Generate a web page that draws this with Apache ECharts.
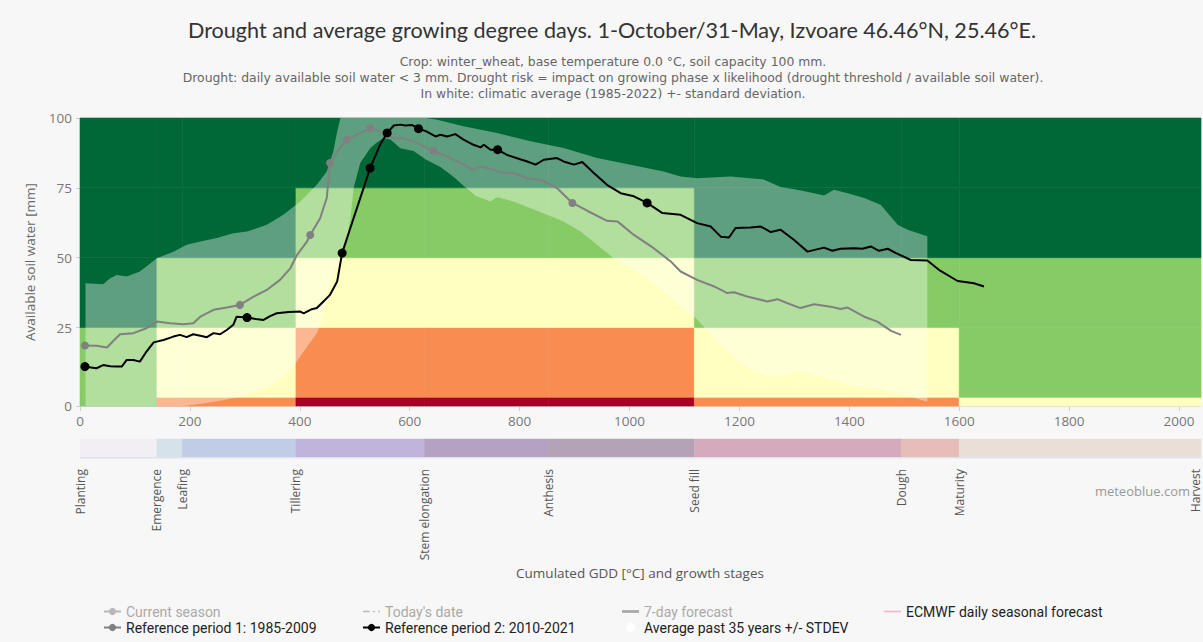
<!DOCTYPE html>
<html>
<head>
<meta charset="utf-8">
<title>Drought and average growing degree days</title>
<script src="https://cdn.jsdelivr.net/npm/echarts@6/dist/echarts.min.js"></script>
<style>
  html, body { margin: 0; padding: 0; background: #f7f7f7; }
  #chart { width: 1203px; height: 642px; }
</style>
</head>
<body>
<div id="chart"></div>
<script>
// ---- Growth stages (start of each stage in cumulated GDD, last entry = harvest) ----
const stageNames = ['Planting', 'Emergence', 'Leafing', 'Tillering', 'Stem elongation',
                    'Anthesis', 'Seed fill', 'Dough', 'Maturity', 'Harvest'];
const stageGdd = [0, 140, 186, 393, 627, 852, 1118, 1495, 1600, 2030];
const gddMax = 2040;

// ---- Soil water classes (mm) and the y tick labels shown at the class bounds ----
const waterBounds = [0, 3, 27.25, 51.5, 75.75, 100];
const yTickValues = [0, 27.25, 51.5, 75.75, 100];
const yTickLabels = ['0', '25', '50', '75', '100'];

// ---- Drought risk level per stage, per soil water class (dry -> wet) ----
const riskByStage = [
  [1, 1, 0, 0, 0],   // Planting
  [3, 2, 1, 0, 0],   // Emergence
  [3, 2, 1, 0, 0],   // Leafing
  [4, 3, 2, 1, 0],   // Tillering
  [4, 3, 2, 1, 0],   // Stem elongation
  [4, 3, 2, 1, 0],   // Anthesis
  [3, 2, 1, 0, 0],   // Seed fill
  [3, 2, 1, 0, 0],   // Dough
  [2, 1, 1, 0, 0]    // Maturity
];

// ---- Climatic average +/- standard deviation (GDD, mm) ----
const stdevUpperGdd = [10, 42, 55, 67, 85, 109, 140, 170, 194, 219, 249, 279, 304, 340, 370, 401, 431, 449, 461, 468, 474,
  630, 650, 698, 759, 820, 880, 941, 1002, 1062, 1093, 1123, 1184, 1245, 1275, 1305, 1336, 1354, 1372, 1397, 1427, 1457, 1488, 1506, 1542];
const stdevUpper = [42.6, 42.3, 44.4, 45.5, 45, 46.7, 51.3, 53.6, 56, 57.1, 58.3, 60, 60.6, 62.9, 66.4, 71, 76.8, 81.4, 88.4, 95.3, 100,
  100, 99.4, 97.1, 94.8, 91.9, 89.6, 86.1, 83.8, 81.4, 79.7, 79.1, 79.7, 78.6, 76, 75.1, 73.9, 73.1, 75.1, 73.9, 72.2, 69.9, 62.9, 61.2, 58.9];
const stdevLowerGdd = [10, 190, 230, 260, 290, 320, 345, 370, 393, 413, 431, 440, 452, 463, 477, 492, 498, 510, 528, 540, 552, 565,
  583, 607, 630, 656, 680, 698, 720, 747, 759, 789, 820, 850, 880, 911, 941, 971, 1002, 1032, 1062, 1093, 1121, 1154, 1184, 1214,
  1245, 1275, 1300, 1336, 1367, 1397, 1427, 1457, 1500, 1542];
const stdevLower = [0, 0, 1, 2, 3.2, 5, 7, 10, 15, 20.6, 25.3, 30, 40, 47, 51.3, 64.7, 75.7, 84.4, 89.5, 91.5, 93, 92.5,
  89.5, 88.5, 85.5, 83, 79.5, 76.5, 73, 71, 72.5, 71, 68.7, 66.4, 64.1, 60.6, 56, 51.3, 47.9, 44.4, 39.7, 34, 30.5, 23.5, 17.7, 13.1,
  10.8, 10.2, 11.9, 10.8, 9, 7.3, 6.4, 5.6, 3.8, 1.5];

// ---- Reference period 1: 1985-2009 ----
const ref1Gdd = [9, 30, 49, 60, 73, 97, 121, 140, 164, 188, 206, 219, 243, 267, 291, 316, 340, 364, 383, 395, 413, 419, 437, 449,
  455, 468, 486, 504, 528, 546, 571, 586, 607, 643, 668, 692, 716, 729, 753, 771, 789, 814, 838, 868, 896, 923, 959, 978, 1008,
  1044, 1075, 1093, 1123, 1154, 1178, 1190, 1214, 1251, 1269, 1290, 1311, 1336, 1366, 1384, 1397, 1427, 1451, 1476, 1494];
const ref1Water = [21, 20.9, 20.3, 22.5, 24.9, 25.3, 27, 29.3, 28.7, 28.4, 28.7, 31, 33.4, 34.2, 35.1, 38, 40.3, 43.8, 47.9, 52.5, 57.1, 59.4, 65.2, 72.2,
  84.4, 88.4, 92.5, 94.2, 96.4, 95.3, 93, 93, 91.9, 88.6, 86.7, 84.4, 82, 83.2, 82, 80.9, 80.9, 79.1, 78.6, 75.7, 70.5, 67.8, 64.3, 64.1, 59.4,
  54.8, 50.2, 46.7, 43.8, 41.5, 39.2, 39.5, 38, 36.3, 37.1, 35.5, 34, 35.3, 34.5, 33.7, 34.2, 31, 29.3, 26.1, 24.7];
const ref1MonthStarts = [9, 291, 419, 455, 486, 528, 643, 896];

// ---- Reference period 2: 2010-2021 ----
const ref2Gdd = [9, 20, 30, 42, 55, 67, 76, 85, 97, 109, 121, 134, 152, 170, 182, 194, 206, 219, 231, 243, 255, 267, 279, 285,
  304, 320, 334, 346, 358, 380, 401, 407, 420, 431, 443, 455, 468, 477, 492, 510, 528, 546, 559, 571, 583, 592, 604, 616, 631,
  647, 656, 668, 683, 698, 716, 729, 735, 747, 760, 777, 801, 814, 829, 844, 868, 880, 899, 914, 935, 959, 984, 1008, 1032, 1060,
  1093, 1123, 1148, 1166, 1181, 1193, 1220, 1239, 1257, 1275, 1299, 1324, 1354, 1369, 1384, 1409, 1424, 1439, 1454, 1470, 1485,
  1512, 1542, 1563, 1597, 1627, 1645];
const ref2Water = [13.7, 13.4, 13.1, 14.2, 13.8, 13.7, 13.7, 16, 16, 15.4, 18.9, 22.1, 22.9, 24.1, 24.7, 23.9, 24.9, 24.4, 23.9, 25.3, 24.9, 26.4, 28.2, 31,
  30.7, 30.2, 29.9, 31.2, 32.2, 32.6, 32.8, 32.2, 33.5, 34, 36.3, 38.6, 43.2, 53.1, 61.8, 72.2, 82.6, 90.7, 94.8, 97.4, 97.7, 97.4, 97.6, 96.3, 95.3,
  93.6, 94.2, 93.6, 94.4, 92.5, 90.7, 89.8, 90.7, 89, 89, 87.2, 85.7, 84.9, 83.8, 85.5, 86.1, 84.9, 83.8, 84.7, 80.9, 76.8, 73.9, 72.8, 70.5, 67,
  66.4, 63.5, 62.3, 58.8, 58.5, 61.8, 62, 62.3, 60.4, 61.2, 57.7, 53.6, 55, 53.9, 54.6, 54.8, 54.6, 55.4, 53.9, 54.6, 53.1,
  50.7, 50.5, 47.3, 43.4, 42.6, 41.5];
const ref2MonthStarts = [9, 304, 477, 528, 559, 616, 760, 1032];

// ---- Styling ----
const riskColors = ['#006837', '#86cb66', '#ffffbf', '#f88d52', '#a50026'];
const stageColors = ['#f1eff4', '#d6e2e9', '#c1cde6', '#c0b4dc', '#b5a2c3', '#b4a2b6', '#d5aabd', '#e6bdb9', '#eadfd6'];
const FONT = '"Open Sans", "Noto Sans", sans-serif';
const SUB_FONT = '"DejaVu Sans", "Open Sans", sans-serif';
const LEGEND_FONT = 'Roboto, "Liberation Sans", sans-serif';

// Legend icons
const ICON_LINE = 'path://M0,0 L20,0 L20,2 L0,2 Z';
const ICON_THICK = 'path://M0,0 L20,0 L20,3.2 L0,3.2 Z';
const ICON_DASHDOT = 'path://M0,0 L8,0 L8,2 L0,2 Z M12,0 L14,0 L14,2 L12,2 Z M18,0 L20,0 L20,2 L18,2 Z';

// Drought-risk cells: [gddFrom, gddTo, waterFrom, waterTo, risk]
const riskCells = [];
riskByStage.forEach((col, s) => {
  const to = s + 1 < riskByStage.length ? stageGdd[s + 1] : gddMax;
  col.forEach((risk, r) => {
    riskCells.push([stageGdd[s], to, waterBounds[r], waterBounds[r + 1], risk]);
  });
});

// Growth stage bar segments: [gddFrom, gddTo, stageIndex]
const stageCells = riskByStage.map((c, i) => [stageGdd[i], i + 1 < riskByStage.length ? stageGdd[i + 1] : gddMax, i]);

function lineData(gdd, water, marks) {
  return gdd.map((g, i) => ({
    value: [g, water[i]],
    symbol: marks.indexOf(g) >= 0 ? 'circle' : 'none'
  }));
}

// One legend column (two stacked entries)
function legendBlock(left, items) {
  return {
    left: left, top: 604, height: 36, orient: 'vertical', itemGap: 1, itemWidth: 17, itemHeight: 9,
    selectedMode: false, padding: 0,
    textStyle: { fontSize: 14, lineHeight: 15, fontFamily: LEGEND_FONT },
    data: items
  };
}

function subtitleLine(y, text) {
  return { type: 'text', x: 613, y: y, style: { text: text, fill: '#666', font: '12.4px ' + SUB_FONT, lineHeight: 14,
      textAlign: 'center', textVerticalAlign: 'middle' } };
}

const chart = echarts.init(document.getElementById('chart'), null, { renderer: 'svg' });

const option = {
  backgroundColor: '#f7f7f7',
  animation: false,
  graphic: [
    { type: 'text', x: 612, y: 30, style: { text: 'Drought and average growing degree days. 1-October/31-May, Izvoare 46.46°N, 25.46°E.',
        fill: '#333', font: '21.6px Lato, "Open Sans", sans-serif', textAlign: 'center', textVerticalAlign: 'middle' } },
    subtitleLine(61, 'Crop: winter_wheat, base temperature 0.0 °C, soil capacity 100 mm.'),
    subtitleLine(77, 'Drought: daily available soil water < 3 mm. Drought risk = impact on growing phase x likelihood (drought threshold / available soil water).'),
    subtitleLine(93, 'In white: climatic average (1985-2022) +- standard deviation.'),
    { type: 'text', x: 1190, y: 491, style: { text: 'meteoblue.com', fill: '#999', font: '13px ' + FONT,
        textAlign: 'right', textVerticalAlign: 'middle' } },
    { type: 'text', x: 640, y: 573, style: { text: 'Cumulated GDD [°C] and growth stages', fill: '#555', font: '13.5px ' + FONT,
        textAlign: 'center', textVerticalAlign: 'middle' } }
  ],
  legend: [
    legendBlock(103, [
      { name: 'Current season', textStyle: { color: '#aaa' } },
      { name: 'Reference period 1: 1985-2009', textStyle: { color: '#222' } }]),
    legendBlock(362, [
      { name: "Today's date", textStyle: { color: '#aaa' }, icon: ICON_DASHDOT },
      { name: 'Reference period 2: 2010-2021', textStyle: { color: '#222' } }]),
    legendBlock(622, [
      { name: '7-day forecast', textStyle: { color: '#aaa' }, icon: ICON_THICK },
      { name: 'Average past 35 years +/- STDEV', textStyle: { color: '#222' }, icon: 'circle', itemStyle: { color: '#ffffff' } }]),
    legendBlock(884, [
      { name: 'ECMWF daily seasonal forecast', textStyle: { color: '#222' }, icon: ICON_LINE }])
  ],
  grid: [
    { left: 80, right: 2, top: 118, height: 288, containLabel: false },
    { left: 80, right: 2, top: 439, height: 18, containLabel: false }
  ],
  xAxis: [
    { type: 'value', gridIndex: 0, min: 0, max: gddMax, interval: 200,
      axisLine: { show: true, lineStyle: { color: '#d8d8d8' } },
      axisTick: { show: true, length: 5, lineStyle: { color: '#d0d0d0' } },
      splitLine: { show: false },
      axisLabel: { color: '#777', fontSize: 13.5, fontFamily: FONT, margin: 8, showMaxLabel: false,
        formatter: v => String(v) } },
    { type: 'value', gridIndex: 1, min: 0, max: gddMax,
      axisLine: { show: false }, axisTick: { show: false }, splitLine: { show: false },
      axisLabel: { customValues: stageGdd, rotate: 90, color: '#555', fontSize: 12, fontFamily: FONT, margin: 12,
        showMinLabel: true, showMaxLabel: true,
        formatter: v => stageNames[stageGdd.indexOf(v)] } }
  ],
  yAxis: [
    { type: 'value', gridIndex: 0, min: 0, max: 100,
      name: 'Available soil water [mm]', nameLocation: 'middle', nameGap: 43,
      nameTextStyle: { color: '#666', fontSize: 13.5, fontFamily: FONT },
      axisLine: { show: false },
      axisTick: { show: true, customValues: yTickValues, length: 4, lineStyle: { color: '#ccc' } },
      splitLine: { show: false },
      axisLabel: { customValues: yTickValues, color: '#777', fontSize: 13.5, fontFamily: FONT, margin: 8,
        formatter: v => yTickLabels[yTickValues.indexOf(v)] } },
    { type: 'value', gridIndex: 1, min: 0, max: 1, show: false }
  ],
  series: [
    {
      name: 'Drought risk', type: 'custom', xAxisIndex: 0, yAxisIndex: 0, z: 1, silent: true,
      encode: { x: [0, 1], y: [2, 3] },
      data: riskCells,
      renderItem: (params, api) => {
        const a = api.coord([api.value(0), api.value(3)]);
        const b = api.coord([api.value(1), api.value(2)]);
        const c = riskColors[api.value(4)];
        return { type: 'rect', shape: { x: a[0], y: a[1], width: b[0] - a[0], height: b[1] - a[1] },
                 style: { fill: c, stroke: c, lineWidth: 0.6 } };
      }
    },
    {
      name: 'Average past 35 years +/- STDEV', type: 'custom', xAxisIndex: 0, yAxisIndex: 0, z: 2, silent: true,
      itemStyle: { color: '#ffffff' },
      data: [[stdevUpperGdd[0], stdevUpper[0]]],
      renderItem: (params, api) => {
        const pts = stdevUpperGdd.map((g, i) => api.coord([g, stdevUpper[i]]));
        for (let i = stdevLowerGdd.length - 1; i >= 0; i--) pts.push(api.coord([stdevLowerGdd[i], stdevLower[i]]));
        return { type: 'polygon', shape: { points: pts }, style: { fill: 'rgba(255,255,255,0.37)' } };
      }
    },
    {
      name: 'Reference period 1: 1985-2009', type: 'line', xAxisIndex: 0, yAxisIndex: 0, z: 3,
      symbol: 'circle', symbolSize: 8, showSymbol: true,
      itemStyle: { color: '#808080' }, lineStyle: { color: '#808080', width: 2 },
      data: lineData(ref1Gdd, ref1Water, ref1MonthStarts)
    },
    {
      name: 'Reference period 2: 2010-2021', type: 'line', xAxisIndex: 0, yAxisIndex: 0, z: 4,
      symbol: 'circle', symbolSize: 9, showSymbol: true,
      itemStyle: { color: '#000000' }, lineStyle: { color: '#000000', width: 2 },
      data: lineData(ref2Gdd, ref2Water, ref2MonthStarts)
    },
    { name: 'Current season', type: 'line', symbol: 'circle', symbolSize: 7,
      itemStyle: { color: '#b8b8b8' }, lineStyle: { color: '#b8b8b8', width: 2 }, data: [] },
    { name: "Today's date", type: 'line', symbol: 'none',
      itemStyle: { color: '#b8b8b8' }, lineStyle: { color: '#b8b8b8', width: 2, type: [6, 4, 2, 4] }, data: [] },
    { name: '7-day forecast', type: 'line', symbol: 'none',
      itemStyle: { color: '#a8a8a8' }, lineStyle: { color: '#a8a8a8', width: 3 }, data: [] },
    { name: 'ECMWF daily seasonal forecast', type: 'line', symbol: 'none',
      itemStyle: { color: '#f5b8c9' }, lineStyle: { color: '#f5b8c9', width: 2 }, data: [] },
    {
      name: 'Growth stages', type: 'custom', xAxisIndex: 1, yAxisIndex: 1, silent: true,
      encode: { x: [0, 1] },
      data: stageCells,
      renderItem: (params, api) => {
        const a = api.coord([api.value(0), 1]);
        const b = api.coord([api.value(1), 0]);
        const c = stageColors[api.value(2)];
        return { type: 'group', children: [
          { type: 'rect', shape: { x: a[0], y: a[1], width: b[0] - a[0], height: b[1] - a[1] },
            style: { fill: c, stroke: c, lineWidth: 0.5 } },
          { type: 'rect', shape: { x: a[0], y: b[1], width: b[0] - a[0], height: 1.5 },
            style: { fill: '#dfe3ea' } }
        ] };
      }
    }
  ]
};

chart.setOption(option);
</script>
</body>
</html>
